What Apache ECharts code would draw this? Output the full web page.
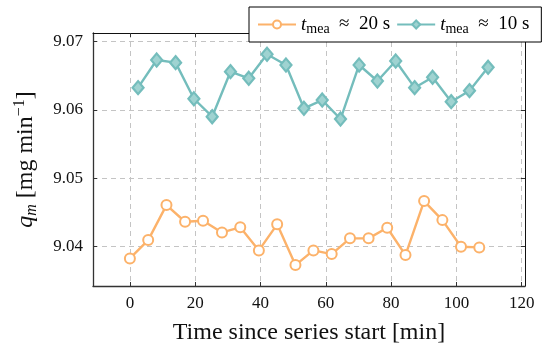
<!DOCTYPE html>
<html><head><meta charset="utf-8">
<script src="https://cdn.jsdelivr.net/npm/echarts@6/dist/echarts.min.js"></script>
<style>html,body{margin:0;padding:0;background:#fff}#c{width:550px;height:351px}</style>
</head><body><div id="c"></div>
<script>
const xTicks = [0, 20, 40, 60, 80, 100, 120];
const yTicks = [9.04, 9.05, 9.06, 9.07];
const seriesNames = ['20', '10'];
const time20 = [0, 5.6, 11.2, 16.9, 22.4, 28.2, 33.8, 39.5, 45.1, 50.7, 56.2, 61.8, 67.4, 73.1, 78.8, 84.4, 90.1, 95.7, 101.4, 107.0];
const q20 = [9.03829, 9.04097, 9.04609, 9.04365, 9.04379, 9.04209, 9.04283, 9.03946, 9.04327, 9.03731, 9.03946, 9.03892, 9.04122, 9.04122, 9.04277, 9.03877, 9.04668, 9.04389, 9.03999, 9.03990];
const time10 = [2.5, 8.2, 14.0, 19.6, 25.2, 30.8, 36.4, 42.0, 47.8, 53.3, 58.9, 64.5, 70.2, 75.8, 81.4, 87.2, 92.7, 98.4, 104.0, 109.7];
const q10 = [9.06327, 9.06732, 9.06693, 9.06165, 9.05902, 9.06561, 9.06464, 9.06816, 9.06659, 9.06025, 9.06146, 9.05868, 9.06659, 9.06425, 9.06717, 9.06327, 9.06479, 9.06122, 9.06283, 9.06625];

const FONT = 'Liberation Serif';
const ORANGE = '#FCB26A';
const TEAL = '#74BDBC';
const zip = (a, b) => a.map((v, i) => [v, b[i]]);

const grid = { left: 93, right: 25, top: 33, bottom: 65 };
const dashed = { show: true, lineStyle: { color: '#c4c4c4', type: [5, 4], width: 1 } };
const tickStyle = { color: '#333', width: 1 };

const chart = echarts.init(document.getElementById('c'), null, { renderer: 'canvas' });
chart.setOption({
  animation: false,
  backgroundColor: '#fff',
  grid: grid,
  legend: {
    left: 249, top: 7,
    orient: 'horizontal',
    backgroundColor: '#fff',
    borderColor: '#000', borderWidth: 1, borderRadius: 0,
    padding: [6, 12, 6, 8],
    itemGap: 6, itemWidth: 38, itemHeight: 10,
    data: seriesNames,
    formatter: n => '{i|t}{sub|mea}  ≈  ' + n + ' s',
    textStyle: {
      fontFamily: FONT, fontSize: 19, color: '#000', lineHeight: 23,
      rich: {
        i: { fontFamily: FONT, fontStyle: 'italic', fontSize: 19, lineHeight: 23 },
        sub: { fontFamily: FONT, fontSize: 14, lineHeight: 13, verticalAlign: 'bottom' }
      }
    }
  },
  xAxis: [{
    type: 'value', min: -11.3, max: 121, position: 'bottom',
    axisLine: { show: true, onZero: false, lineStyle: { color: '#333', width: 1.3 } },
    axisTick: { show: true, inside: true, length: 4, customValues: xTicks, lineStyle: tickStyle },
    axisLabel: { customValues: xTicks, fontFamily: FONT, fontSize: 17, color: '#111', margin: 9, formatter: v => String(v) },
    splitLine: dashed,
    name: 'Time since series start [min]',
    nameLocation: 'middle', nameGap: 35,
    nameTextStyle: { fontFamily: FONT, fontSize: 24, color: '#111' }
  }, {
    type: 'value', min: -11.3, max: 121, position: 'top',
    axisLine: { show: true, onZero: false, lineStyle: { color: '#111', width: 1 } },
    axisTick: { show: true, inside: true, length: 4, customValues: xTicks, lineStyle: tickStyle },
    axisLabel: { show: false },
    splitLine: { show: false }
  }],
  yAxis: [{
    type: 'value', min: 9.03425, max: 9.07127, position: 'left',
    axisLine: { show: true, onZero: false, lineStyle: { color: '#333', width: 1.3 } },
    axisTick: { show: true, inside: true, length: 4, customValues: yTicks, lineStyle: tickStyle },
    axisLabel: { customValues: yTicks, fontFamily: FONT, fontSize: 17, color: '#111', margin: 10, formatter: v => v.toFixed(2) },
    splitLine: dashed,
    name: '{qi|q}{sub|m} [mg min{sup|−1}]',
    nameLocation: 'middle', nameGap: 53, nameRotate: 90,
    nameTextStyle: {
      fontFamily: FONT, fontSize: 24, color: '#111', lineHeight: 28,
      rich: {
        qi: { fontFamily: FONT, fontStyle: 'italic', fontSize: 24, lineHeight: 28 },
        sub: { fontFamily: FONT, fontStyle: 'italic', fontSize: 16, lineHeight: 16, verticalAlign: 'bottom' },
        sup: { fontFamily: FONT, fontSize: 16, lineHeight: 16, verticalAlign: 'top' }
      }
    }
  }, {
    type: 'value', min: 9.03425, max: 9.07127, position: 'right',
    axisLine: { show: true, onZero: false, lineStyle: { color: '#111', width: 1 } },
    axisTick: { show: true, inside: true, length: 4, customValues: yTicks, lineStyle: tickStyle },
    axisLabel: { show: false },
    splitLine: { show: false }
  }],
  series: [{
    name: seriesNames[0], type: 'line', xAxisIndex: 0, yAxisIndex: 0,
    data: zip(time20, q20),
    symbol: 'emptyCircle', symbolSize: 10,
    lineStyle: { color: ORANGE, width: 2.4 },
    itemStyle: { color: ORANGE, borderColor: ORANGE, borderWidth: 2.2 },
    z: 3
  }, {
    name: seriesNames[1], type: 'line', xAxisIndex: 0, yAxisIndex: 0,
    data: zip(time10, q10),
    symbol: 'diamond', symbolSize: [11, 13],
    lineStyle: { color: TEAL, width: 2.4 },
    itemStyle: { color: '#9fd3d1', borderColor: TEAL, borderWidth: 2.2 },
    z: 3
  }]
});
</script></body></html>
